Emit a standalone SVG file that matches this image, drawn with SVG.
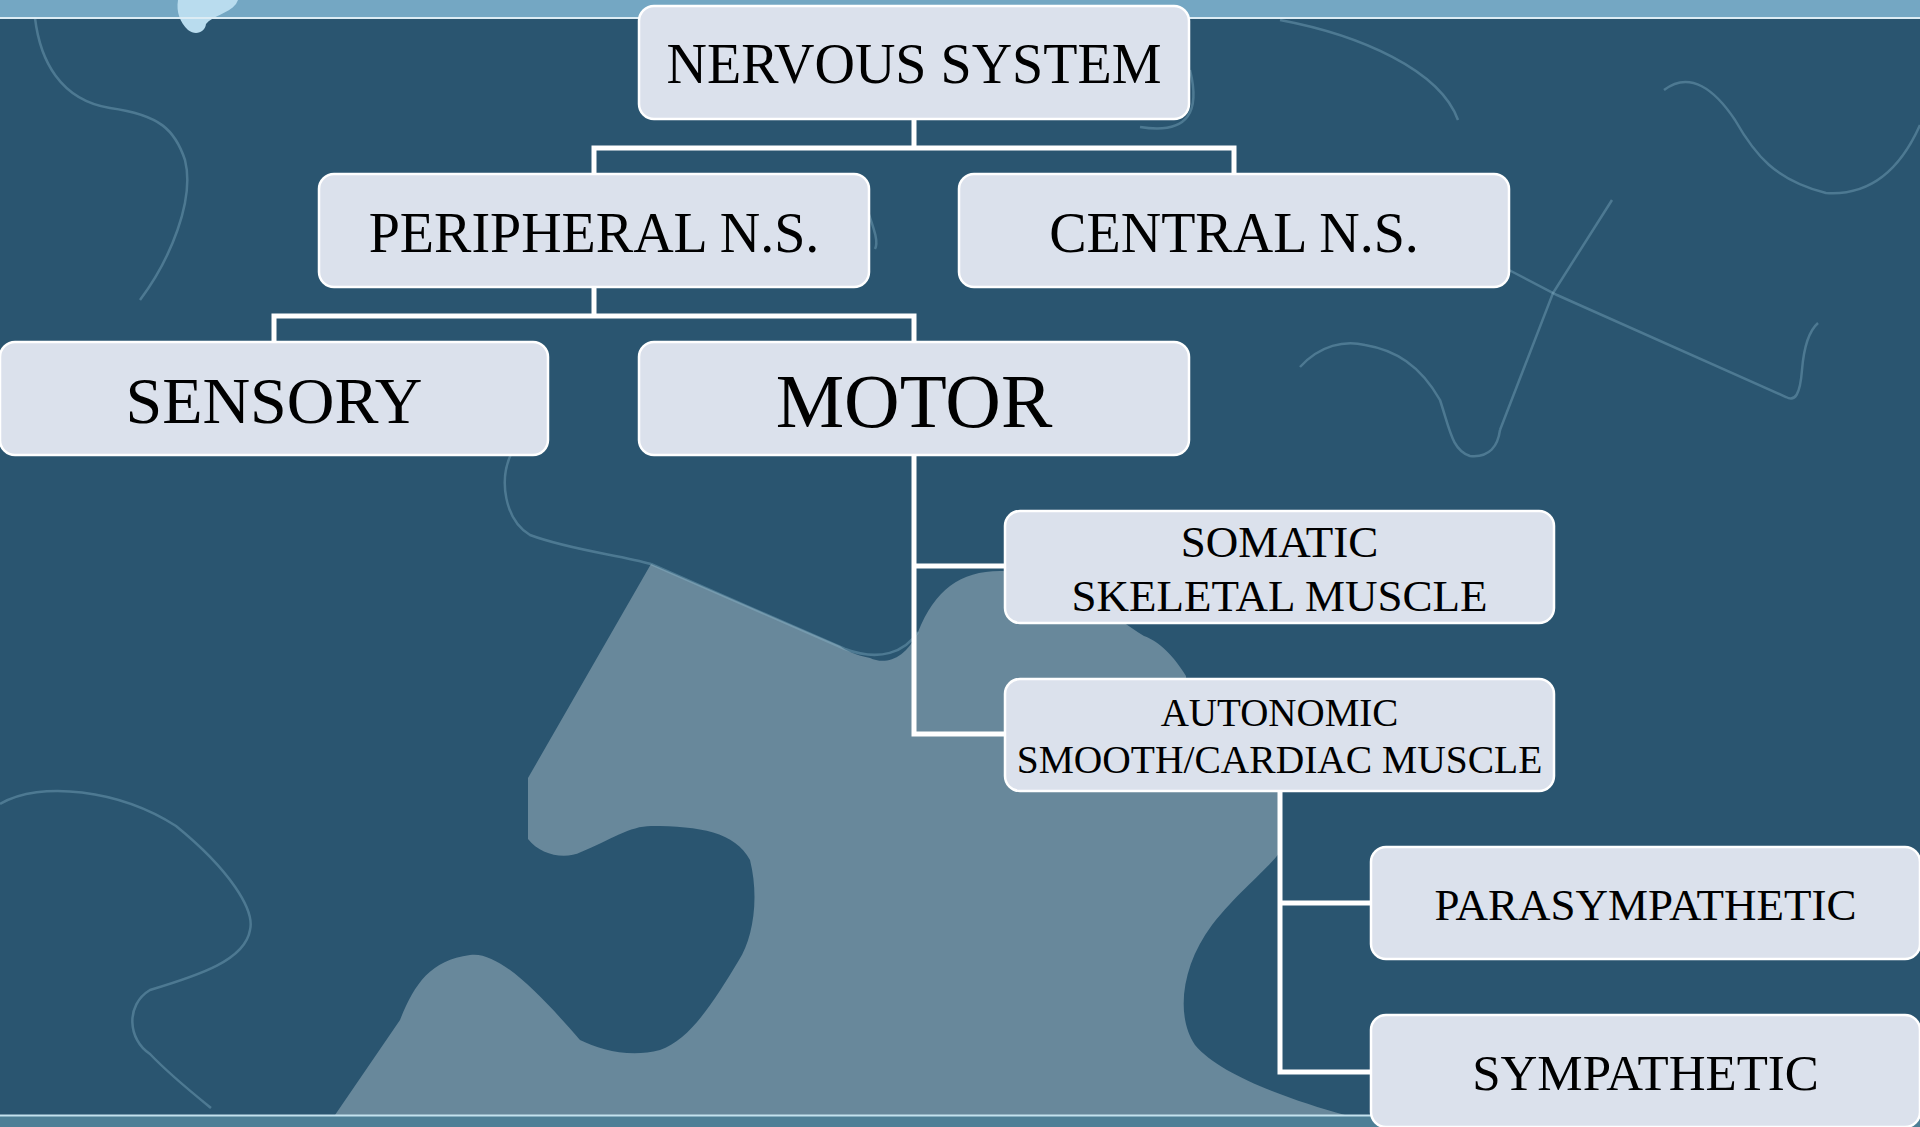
<svg xmlns="http://www.w3.org/2000/svg" width="1920" height="1127" viewBox="0 0 1920 1127">
<style>
.box{fill:#dbe1ec;stroke:#ffffff;stroke-width:2.5}
.t{font-family:"Liberation Serif","Times New Roman",serif;fill:#000;text-anchor:middle}
.c{fill:none;stroke:#ffffff;stroke-width:5;stroke-linejoin:miter;stroke-linecap:butt}
.o{fill:none;stroke:#8fbcd2;stroke-opacity:0.35;stroke-width:2.5}
</style>
<g id="background">
<rect x="0" y="0" width="1920" height="1127" fill="#2a5570"/>
<path d="M1345 1115 C1290 1100 1220 1075 1195 1045 C1175 1015 1182 965 1212 925 C1240 890 1265 872 1280 852 L1280 792 L1190 792 L1186 676 C1170 650 1155 640 1144 636 C1110 615 1060 570 1000 571 C960 571 935 590 918 632 C905 660 885 665 870 658 C855 655 845 650 840 646 L651 564 L528 778 L528 839 C540 855 565 860 581 852 C610 840 630 826 651 826 C700 826 735 832 750 860 C760 900 752 940 739 960 C715 1000 690 1040 660 1050 C630 1058 600 1050 580 1040 C545 1000 500 950 470 955 C430 960 414 985 400 1020 L335 1115 Z" fill="#68889b"/>
<path d="M651 564 L845 649 C880 662 905 652 918 632" class="o" stroke-opacity="0.25"/>
<path d="M512 452 C498 480 505 520 530 535 C570 550 620 555 651 564" class="o" stroke-opacity="0.3"/>
<path d="M0 804 C40 780 120 790 176 826 C230 870 255 910 250 930 C245 960 200 975 150 990 C125 1005 128 1040 150 1054 C170 1075 195 1095 211 1108" class="o" stroke-opacity="0.3"/>
<path d="M35 18 C40 60 60 100 110 108 C160 115 175 130 185 160 C195 200 170 260 140 300" class="o" stroke-opacity="0.25"/>
<path d="M1664 90 C1690 70 1715 90 1735 120 C1755 155 1775 180 1826 193 C1870 196 1900 170 1920 125" class="o" stroke-opacity="0.45"/>
<path d="M1280 20 C1360 35 1440 70 1458 120" class="o" stroke-opacity="0.3"/>
<path d="M1190 70 C1200 110 1190 135 1140 127" class="o" stroke-opacity="0.3"/>
<path d="M1509 270 L1557 295 L1786 397 C1795 402 1800 395 1802 370 C1804 345 1810 330 1818 323" class="o" stroke-opacity="0.35"/>
<path d="M1300 367 C1320 345 1345 340 1365 345 C1395 350 1420 365 1440 400 C1450 430 1452 450 1470 456 C1490 458 1498 445 1500 430" class="o" stroke-opacity="0.35"/>
<path d="M1500 430 L1553 293 L1612 200" class="o" stroke-opacity="0.15"/>
<path d="M863 196 C870 220 880 240 875 249" class="o" stroke-opacity="0.25"/>
<rect x="0" y="0" width="1920" height="17" fill="#74a7c3"/>
<path d="M178 0 C176 12 180 22 188 30 C196 36 205 32 206 24 C212 16 228 14 236 4 L238 0 Z" fill="#b9dcee"/>
<line x1="0" y1="18" x2="1920" y2="18" stroke="#dcecf4" stroke-width="2"/>
<rect x="0" y="1116" width="1920" height="11" fill="#4d7f96"/>
<line x1="0" y1="1115.5" x2="1920" y2="1115.5" stroke="#c4e2ee" stroke-width="2"/>
</g>
<g id="connectors">
<path class="c" d="M914 119 V148 M594 174 V148 H1234 V174"/>
<path class="c" d="M594 287 V316 M274 342 V316 H914 V342"/>
<path class="c" d="M914 455 V734 H1005 M914 566 H1005"/>
<path class="c" d="M1280 791 V1072 H1371 M1280 903 H1371"/>
</g>
<g id="node-nervous-system">
<rect class="box" x="639" y="6" width="550" height="113" rx="15"/>
<text class="t" x="914" y="83" font-size="56">NERVOUS SYSTEM</text>
</g>
<g id="node-peripheral">
<rect class="box" x="319" y="174" width="550" height="113" rx="15"/>
<text class="t" x="594" y="252" font-size="56">PERIPHERAL N.S.</text>
</g>
<g id="node-central">
<rect class="box" x="959" y="174" width="550" height="113" rx="15"/>
<text class="t" x="1234" y="252" font-size="56">CENTRAL N.S.</text>
</g>
<g id="node-sensory">
<rect class="box" x="0" y="342" width="548" height="113" rx="15"/>
<text class="t" x="274" y="423" font-size="66">SENSORY</text>
</g>
<g id="node-motor">
<rect class="box" x="639" y="342" width="550" height="113" rx="15"/>
<text class="t" x="914" y="427" font-size="77">MOTOR</text>
</g>
<g id="node-somatic">
<rect class="box" x="1005" y="511" width="549" height="112" rx="15"/>
<text class="t" x="1279.5" y="557" font-size="45">SOMATIC</text>
<text class="t" x="1279.5" y="611" font-size="45">SKELETAL MUSCLE</text>
</g>
<g id="node-autonomic">
<rect class="box" x="1005" y="679" width="549" height="112" rx="15"/>
<text class="t" x="1279.5" y="726" font-size="39">AUTONOMIC</text>
<text class="t" x="1279.5" y="773" font-size="39.5">SMOOTH/CARDIAC MUSCLE</text>
</g>
<g id="node-parasympathetic">
<rect class="box" x="1371" y="847" width="549" height="112" rx="15"/>
<text class="t" x="1645.5" y="920" font-size="45">PARASYMPATHETIC</text>
</g>
<g id="node-sympathetic">
<rect class="box" x="1371" y="1015" width="549" height="112" rx="15"/>
<text class="t" x="1645.5" y="1090" font-size="51">SYMPATHETIC</text>
</g>
</svg>
